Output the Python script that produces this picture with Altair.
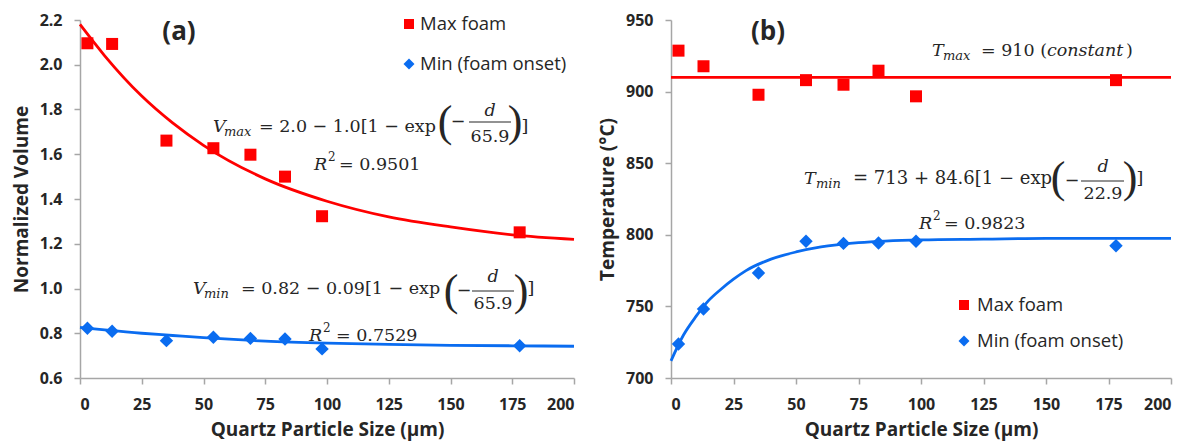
import altair as alt
import pandas as pd

# ---------------- data ----------------
SIZE_UM = [3, 13, 35, 54, 69, 83, 98, 178]
VOL_MAX = [2.096, 2.093, 1.661, 1.627, 1.598, 1.50, 1.323, 1.251]
VOL_MIN = [0.822, 0.809, 0.767, 0.782, 0.777, 0.774, 0.730, 0.744]
TEMP_MAX = [928.6, 917.7, 897.8, 908.0, 904.8, 914.6, 896.7, 908.0]
TEMP_MIN = [723.7, 748.2, 773.3, 795.5, 794.0, 794.3, 795.5, 792.4]

# fitted curves
FIT_D_A = [0, 10, 25, 37.5, 50, 75, 100, 125, 150, 175, 200]
FIT_VMAX = [2.18, 2.04, 1.86, 1.74, 1.64, 1.49, 1.39, 1.32, 1.275, 1.24, 1.22]
FIT_VMIN = [0.826, 0.815, 0.80, 0.79, 0.78, 0.765, 0.756, 0.75, 0.746, 0.744, 0.742]
FIT_D_B = [0, 5, 10, 15, 20, 25, 30, 40, 50, 60, 75, 100, 125, 150, 200]
FIT_TMIN = [712, 730, 743, 754, 762, 769, 775, 783, 788, 791.5, 794.5, 796.5, 797, 797.5, 797.5]
FIT_TMAX_D = [0, 200]
FIT_TMAX = [910, 910]

X_TICKS = [0, 25, 50, 75, 100, 125, 150, 175, 200]
VOL_TICKS = [0.6, 0.8, 1.0, 1.2, 1.4, 1.6, 1.8, 2.0, 2.2]
TEMP_TICKS = [700, 750, 800, 850, 900, 950]

RED = "#FF0000"
BLUE = "#0A6CF0"
TXT = "#262626"
AXC = "#A6A6A6"
MATH = "DejaVu Serif"
PAREN = "Liberation Serif"
SANS = "Open Sans"
ONE = alt.Data(values=[{}])

W_A, W_B, H = 494, 500, 358


def txt(s, x, y, size=17.5, font=MATH, style="normal", weight="normal",
        align="left", baseline="alphabetic"):
    return alt.Chart(ONE).mark_text(
        text=s, font=font, fontSize=size, fontStyle=style, fontWeight=weight,
        align=align, baseline=baseline, color=TXT
    ).encode(x=alt.value(x), y=alt.value(y))


def rule(x1, x2, y):
    return alt.Chart(ONE).mark_rule(color=TXT, strokeWidth=1.2).encode(
        x=alt.value(x1), x2=alt.value(x2), y=alt.value(y))


def sym(shape, color, size, x, y):
    return alt.Chart(ONE).mark_point(
        shape=shape, filled=True, size=size, color=color, opacity=1, strokeWidth=0
    ).encode(x=alt.value(x), y=alt.value(y))


def xenc(field):
    return alt.X(field, type="quantitative",
                 scale=alt.Scale(domain=[0, 200], nice=False, zero=False),
                 axis=alt.Axis(values=X_TICKS, title="Quartz Particle Size (µm)"))


# ---------------- panel (a) ----------------
pts_a = pd.DataFrame({"d": SIZE_UM, "vmax": VOL_MAX, "vmin": VOL_MIN})
fit_a = pd.DataFrame({"d": FIT_D_A, "vmax": FIT_VMAX, "vmin": FIT_VMIN})

yA = alt.Scale(domain=[0.6, 2.2], nice=False, zero=False)
yA_axis = alt.Axis(values=VOL_TICKS, format=".1f", title="Normalized Volume")

a_fit_max = alt.Chart(fit_a).mark_line(color=RED, strokeWidth=2.8, interpolate="monotone").encode(
    x=xenc("d"), y=alt.Y("vmax:Q", scale=yA, axis=yA_axis))
a_fit_min = alt.Chart(fit_a).mark_line(color=BLUE, strokeWidth=2.8, interpolate="monotone").encode(
    x="d:Q", y="vmin:Q")
a_pts_max = alt.Chart(pts_a).mark_point(shape="square", filled=True, size=144, color=RED,
                                        opacity=1, strokeWidth=0).encode(x="d:Q", y="vmax:Q")
a_pts_min = alt.Chart(pts_a).mark_point(shape="diamond", filled=True, size=180, color=BLUE,
                                        opacity=1, strokeWidth=0).encode(x="d:Q", y="vmin:Q")

a_ann = [
    txt("(a)", 99, 12, size=26, font=SANS, weight="bold", align="center", baseline="middle"),
    sym("square", RED, 100, 329, 4),
    txt("Max foam", 340, 4, size=18.5, font=SANS, baseline="middle"),
    sym("diamond", BLUE, 120, 329, 44),
    txt("Min (foam onset)", 340, 44, size=18.5, font=SANS, baseline="middle"),
    # V_max equation
    txt("V", 133, 112, style="italic"),
    txt("max", 144, 116, size=13, style="italic"),
    txt("= 2.0 − 1.0[1 − exp", 179, 112),
    txt("(", 365, 103, size=44, font=PAREN, align="center", baseline="middle"),
    txt("−", 378, 107, align="center"),
    txt("d", 410, 96, style="italic", align="center"),
    rule(389, 431, 102),
    txt("65.9", 410, 122, align="center"),
    txt(")", 435, 103, size=44, font=PAREN, align="center", baseline="middle"),
    txt("]", 445, 112, align="center"),
    txt("R", 234, 150, style="italic"),
    txt("2", 248, 141, size=12),
    txt("= 0.9501", 259, 150),
    # V_min equation
    txt("V", 113, 274, style="italic"),
    txt("min", 124, 278, size=13, style="italic"),
    txt("= 0.82 − 0.09[1 − exp", 161, 274),
    txt("(", 371, 272, size=44, font=PAREN, align="center", baseline="middle"),
    txt("−", 384, 276, align="center"),
    txt("d", 413, 262, style="italic", align="center"),
    rule(392, 434, 271),
    txt("65.9", 413, 289, align="center"),
    txt(")", 441, 272, size=44, font=PAREN, align="center", baseline="middle"),
    txt("]", 451, 274, align="center"),
    txt("R", 229, 321, style="italic"),
    txt("2", 243, 312, size=12),
    txt("= 0.7529", 256, 321),
]

panel_a = alt.layer(a_fit_max, a_fit_min, a_pts_max, a_pts_min, *a_ann).properties(
    width=W_A, height=H)

# ---------------- panel (b) ----------------
pts_b = pd.DataFrame({"d": SIZE_UM, "tmax": TEMP_MAX, "tmin": TEMP_MIN})
fit_b = pd.DataFrame({"d": FIT_D_B, "tmin": FIT_TMIN})
fit_b_max = pd.DataFrame({"d": FIT_TMAX_D, "tmax": FIT_TMAX})

yB = alt.Scale(domain=[700, 950], nice=False, zero=False)
yB_axis = alt.Axis(values=TEMP_TICKS, format="d", title="Temperature (°C)")

b_fit_max = alt.Chart(fit_b_max).mark_line(color=RED, strokeWidth=2.8).encode(
    x=xenc("d"), y=alt.Y("tmax:Q", scale=yB, axis=yB_axis))
b_fit_min = alt.Chart(fit_b).mark_line(color=BLUE, strokeWidth=2.8, interpolate="monotone").encode(
    x="d:Q", y="tmin:Q")
b_pts_max = alt.Chart(pts_b).mark_point(shape="square", filled=True, size=144, color=RED,
                                        opacity=1, strokeWidth=0).encode(x="d:Q", y="tmax:Q")
b_pts_min = alt.Chart(pts_b).mark_point(shape="diamond", filled=True, size=180, color=BLUE,
                                        opacity=1, strokeWidth=0).encode(x="d:Q", y="tmin:Q")

b_ann = [
    txt("(b)", 97, 12, size=26, font=SANS, weight="bold", align="center", baseline="middle"),
    # T_max
    txt("T", 261, 36, style="italic"),
    txt("max", 272, 40, size=13, style="italic"),
    txt("= 910 (", 310, 36),
    txt("constant", 376, 36, style="italic"),
    txt(")", 455, 36),
    # T_min
    txt("T", 133, 164, style="italic"),
    txt("min", 145, 168, size=13, style="italic"),
    txt("= 713 + 84.6[1 − exp", 182, 164, size=18),
    txt("(", 387, 159, size=44, font=PAREN, align="center", baseline="middle"),
    txt("−", 401, 166, align="center"),
    txt("d", 432, 152, style="italic", align="center"),
    rule(410, 453, 161),
    txt("22.9", 432, 179, align="center"),
    txt(")", 459, 159, size=44, font=PAREN, align="center", baseline="middle"),
    txt("]", 469, 164, align="center"),
    txt("R", 248, 209, style="italic"),
    txt("2", 262, 200, size=12),
    txt("= 0.9823", 273, 209),
    # legend
    sym("square", RED, 100, 293, 285),
    txt("Max foam", 306, 285, size=18.5, font=SANS, baseline="middle"),
    sym("diamond", BLUE, 120, 293, 321),
    txt("Min (foam onset)", 306, 321, size=18.5, font=SANS, baseline="middle"),
]

panel_b = alt.layer(b_fit_max, b_fit_min, b_pts_max, b_pts_min, *b_ann).properties(
    width=W_B, height=H)

chart = alt.hconcat(panel_a, panel_b, spacing=97, bounds="flush").properties(
    padding={"left": 12, "top": 12, "right": 0, "bottom": 4}
).configure_view(stroke=None).configure_axis(
    grid=False,
    labelFont=SANS, labelFontWeight="bold", labelFontSize=16, labelColor=TXT,
    titleFont=SANS, titleFontWeight="bold", titleFontSize=19, titleColor=TXT,
    domainColor=AXC, tickColor=AXC, domainWidth=1.5, tickWidth=1.5, tickSize=6,
    labelPadding=12,
).configure_axisX(titlePadding=8).configure_axisY(titlePadding=8)

chart.save("out.html", embed_options={"renderer": "svg", "actions": False})
